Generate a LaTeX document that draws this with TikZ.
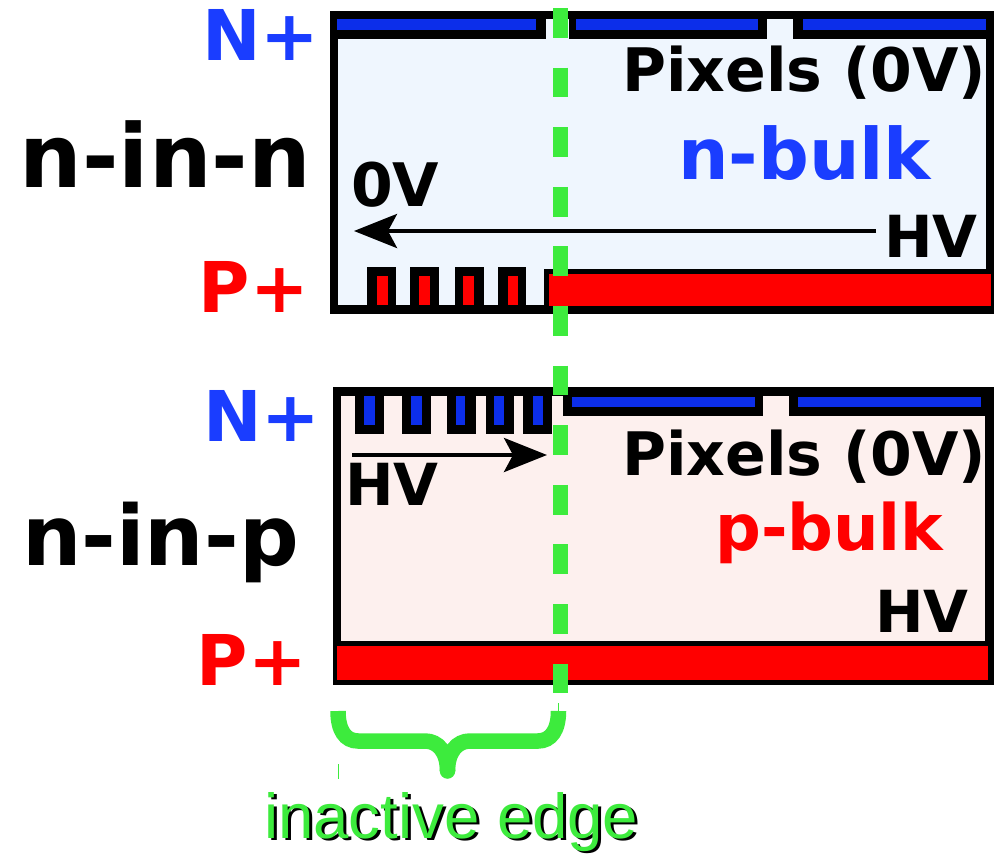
\documentclass[tikz,border=0pt]{standalone}
\usepackage{fontspec}
\setmainfont{DejaVu Sans}
\newfontfamily\edgefont{Liberation Sans}
\usetikzlibrary{arrows.meta}
\definecolor{nbulk}{HTML}{EFF6FE}
\definecolor{pbulk}{HTML}{FDF0EE}
\definecolor{nblue}{HTML}{1A3DFF}
\definecolor{barblue}{HTML}{0C2EEA}
\definecolor{pred}{HTML}{FF0000}
\definecolor{edgegreen}{HTML}{3DEB3D}
\newcommand{\sz}[1]{\fontsize{#1}{#1}\selectfont\bfseries}
\tikzset{
  lbl/.style={inner sep=0pt, anchor=base west},
  field/.style={line width=4pt, -{Stealth[length=43pt, width=34pt, inset=9pt]}},
}
\begin{document}
\begin{tikzpicture}[x=1pt, y=-1pt]
\useasboundingbox (0,0) rectangle (994,854);
% n-in-n
\fill[black] (330,11) rectangle (994,314);
\fill[nbulk] (338,39) rectangle (986,305);
\fill[nbulk] (546,19) rectangle (569,39);
\fill[nbulk] (767,19) rectangle (793,39);
\fill[barblue] (337,19) rectangle (536,30);
\fill[barblue] (576,19) rectangle (758,30);
\fill[barblue] (803,19) rectangle (986,30);
\foreach \x/\w in {367/29, 410/29, 455/29, 498/28}
  \fill[black] (\x,267) rectangle ++(\w,40);
\foreach \x/\w in {377/10.5, 419/11, 463/10.5, 508/10}
  \fill[pred] (\x,276) rectangle ++(\w,29);
\fill[black] (544,269) rectangle (994,306);
\fill[pred] (549,273.5) rectangle (991,305.5);
% n-in-p
\fill[black] (333,387) rectangle (994,685);
\fill[pbulk] (340.5,396) rectangle (985,641);
\fill[black] (563,396) rectangle (985,416);
\fill[pbulk] (763,396) rectangle (788.5,416);
\fill[barblue] (571.5,397) rectangle (755,407);
\fill[barblue] (798,397) rectangle (981,407);
\foreach \x/\w in {354.5/29, 402/29, 447/28.5, 485.5/28.5, 523/29}
  \fill[black] (\x,396) rectangle ++(\w,38);
\foreach \x/\w in {364/10.5, 411/10.5, 456/9, 494/10, 533/10}
  \fill[barblue] (\x,396) rectangle ++(\w,29);
\fill[pred] (337,646) rectangle (988,679.5);
% labels
\node[lbl, nblue, font=\sz{70}] (nplusa) at (202,60) {N+};
\node[lbl, font=\sz{88}] (ninn) at (19.5,187) {n-in-n};
\node[lbl, pred, font=\sz{70}] (pplusa) at (198.5,312) {P+};
\node[lbl, font=\sz{60}] (pixelsa) at (622,91) {Pixels (0V)};
\node[lbl, nblue, font=\sz{71}] (nbulklab) at (678,179) {n-bulk};
\node[lbl, font=\sz{60}] (zerov) at (351,206) {0V};
\node[lbl, font=\sz{58}] (hva) at (884,257) {HV};
\node[lbl, nblue, font=\sz{70}] (nplusb) at (203,441.5) {N+};
\node[lbl, font=\sz{83.5}] (ninp) at (22,565) {n-in-p};
\node[lbl, pred, font=\sz{70}] (pplusb) at (196.5,685.5) {P+};
\node[lbl, font=\sz{60}] (pixelsb) at (622,475) {Pixels (0V)};
\node[lbl, pred, font=\sz{64}] (pbulklab) at (715,550) {p-bulk};
\node[lbl, font=\sz{58}] (hvb) at (345,505) {HV};
\node[lbl, font=\sz{58}] (hvc) at (875,632) {HV};
% drift arrows
\coordinate (hvstart) at (876,231);
\coordinate (zerotip) at (354,231);
\coordinate (hvleft) at (352,455);
\coordinate (edgetip) at (547,455);
\draw[field] (hvstart) -- (zerotip);
\draw[field] (hvleft) -- (edgetip);
% edge line
\coordinate (edgetop) at (560.5,8);
\coordinate (edgebot) at (560.5,693);
\draw[edgegreen, line width=15pt, dash pattern=on 29.8pt off 29.8pt] (edgetop) -- (edgebot);
% brace
\draw[edgegreen, line width=15.5pt] (338,711) .. controls (338,730) and (345,741) .. (358,741) -- (425,741) .. controls (438,741) and (447.5,752) .. (447.5,771);
\draw[edgegreen, line width=15.5pt] (558.5,711) .. controls (558.5,730) and (551,741) .. (538,741) -- (470,741) .. controls (457,741) and (447.5,752) .. (447.5,771);
\fill[edgegreen] (447.5,771) circle (7.75pt);
\fill[edgegreen] (337.7,764) rectangle (338.7,779);
\fill[edgegreen] (558,703) rectangle (559,711);
\node[lbl, black, font=\edgefont\fontsize{63.5}{63.5}\selectfont] (edgeshadow) at (267,840) {inactive edge};
\node[lbl, edgegreen, font=\edgefont\fontsize{63.5}{63.5}\selectfont] (edgelab) at (264,838) {inactive edge};
\end{tikzpicture}
\end{document}
